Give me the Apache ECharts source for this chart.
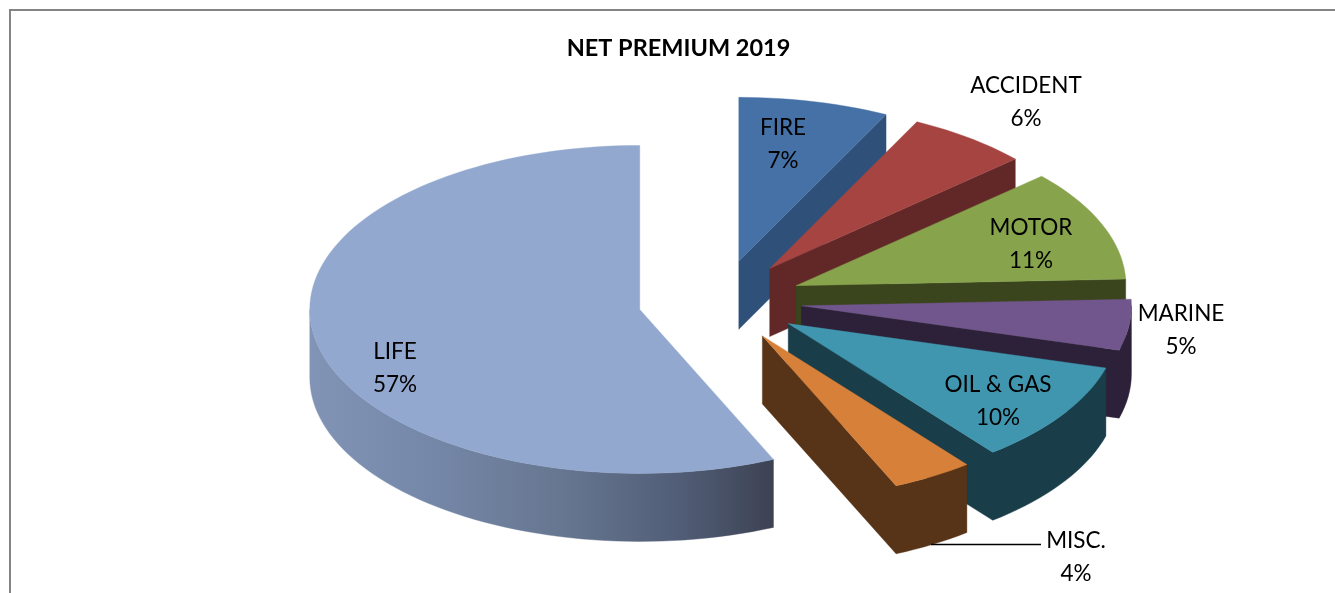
<!DOCTYPE html>
<html>
<head>
<meta charset="utf-8">
<title>Net Premium 2019</title>
<script src="https://cdn.jsdelivr.net/npm/echarts@6/dist/echarts.min.js"></script>
<style>
  html, body { margin: 0; padding: 0; background: #fff; }
  #chart { width: 1335px; height: 593px; }
</style>
</head>
<body>
<div id="chart"></div>
<script>
// Net premium shares, clockwise from twelve o'clock.
const categories = ['FIRE', 'ACCIDENT', 'MOTOR', 'MARINE', 'OIL & GAS', 'MISC.', 'LIFE'];
const shares = [7, 6, 11, 5, 10, 4, 57];

const topColors = ['#4571a7', '#a54441', '#87a34c', '#71568d', '#3f96ae', '#d7803a', '#93a8cf'];
const sideColors = ['#2f5079', '#612827', '#3a441d', '#2c2138', '#193d49', '#573317', '#3c4252'];

// Projection of the tilted pie: centre, ellipse radii, slice thickness, explosion distance,
// and how far (degrees) the camera perspective drags rim points clockwise on the right side.
const pie = { cx: 720, cy: 301, rx: 330, ry: 164, depth: 68, explode: 82, skew: 1.3 };

// Label centres, one per slice, in page pixels.
const labelCentres = [[783, 144], [1026, 102], [1031, 244], [1181, 330], [998, 401], [1076, 557], [395, 368]];

const DEG = Math.PI / 180;
const startAngles = [];
shares.reduce(function (sum, v) { startAngles.push(sum); return sum + v; }, 0);

function projected(deg) {
  return deg + pie.skew * Math.min(1, deg / 25, (360 - deg) / 205);
}

function rimPoint(apex, deg, drop) {
  return [apex[0] + pie.rx * Math.sin(deg * DEG), apex[1] - pie.ry * Math.cos(deg * DEG) + drop];
}

function arc(apex, from, to, drop) {
  const pts = [];
  const steps = Math.max(2, Math.ceil((to - from) / 2));
  for (let i = 0; i <= steps; i++) pts.push(rimPoint(apex, from + (to - from) * i / steps, drop));
  return pts;
}

function polygon(points, fill) {
  return {
    type: 'polygon',
    shape: { points: points },
    style: { fill: fill, stroke: fill, lineWidth: 0.4 }
  };
}

const lifeWall = new echarts.graphic.LinearGradient(0, 0, 1, 0, [
  { offset: 0, color: '#8294b6' },
  { offset: 0.25, color: '#7688a9' },
  { offset: 0.55, color: '#667690' },
  { offset: 0.8, color: '#515d76' },
  { offset: 1, color: '#3c4252' }
]);

function renderSlice(params, api) {
  const i = params.dataIndex;
  const a1 = projected(startAngles[i] * 3.6);
  const a2 = projected((startAngles[i] + api.value(0)) * 3.6);
  const mid = (a1 + a2) / 2 * DEG;
  const apex = [
    pie.cx + pie.explode * Math.sin(mid),
    pie.cy - pie.explode * Math.cos(mid) * pie.ry / pie.rx
  ];
  const children = [];

  // Outer wall on the near half of the ellipse.
  const wallFrom = Math.max(a1, 90);
  const wallTo = Math.min(a2, 270);
  let upper = [];
  let lower = [];
  if (wallTo > wallFrom) {
    upper = arc(apex, wallFrom, wallTo, 0);
    lower = arc(apex, wallFrom, wallTo, pie.depth).reverse();
  }

  // The cut face along the closing radius is seen from the front while that radius points
  // right; it joins the wall into one outline so no seam shows between them.
  if (a2 < 180) {
    const rim = rimPoint(apex, a2, 0);
    const face = [rim, apex, [apex[0], apex[1] + pie.depth], [rim[0], rim[1] + pie.depth]];
    children.push(polygon(upper.slice(0, -1).concat(face, lower.slice(1)), sideColors[i]));
  } else if (upper.length) {
    children.push(polygon(upper.concat(lower), categories[i] === 'LIFE' ? lifeWall : sideColors[i]));
  }

  // Top face.
  children.push(polygon([apex].concat(arc(apex, a1, a2, 0)), topColors[i]));

  // Two-line label: name, then share.
  const at = labelCentres[i];
  children.push({
    type: 'text',
    z2: 50,
    x: at[0],
    y: at[1],
    style: {
      text: categories[i] + '\n' + api.value(0) + '%',
      fill: '#000',
      font: '22.5px Lato, "Open Sans", sans-serif',
      lineHeight: 33,
      align: 'center',
      verticalAlign: 'middle'
    }
  });

  return { type: 'group', children: children };
}

const chart = echarts.init(document.getElementById('chart'), null, { renderer: 'canvas' });
chart.setOption({
  animation: false,
  backgroundColor: '#ffffff',
  title: {
    text: 'NET PREMIUM 2019',
    left: 673.5,
    top: 31,
    textAlign: 'center',
    textStyle: { fontFamily: 'Lato, "Open Sans", sans-serif', fontWeight: 'bold', fontSize: 23.5, color: '#000' }
  },
  graphic: [
    // Chart area frame, open on the right and bottom.
    { type: 'line', shape: { x1: 9, y1: 10, x2: 1335, y2: 10 }, style: { stroke: '#858585', lineWidth: 2 } },
    { type: 'line', shape: { x1: 10, y1: 9, x2: 10, y2: 593 }, style: { stroke: '#858585', lineWidth: 2 } },
    // Leader from the MISC. slice to its label.
    { type: 'line', z: 10, shape: { x1: 931, y1: 544.5, x2: 1041, y2: 544.5 }, style: { stroke: '#000', lineWidth: 1.6 } }
  ],
  series: [{
    type: 'custom',
    coordinateSystem: 'none',
    renderItem: renderSlice,
    data: shares.map(function (v) { return [v]; }),
    silent: true
  }]
});
</script>
</body>
</html>
